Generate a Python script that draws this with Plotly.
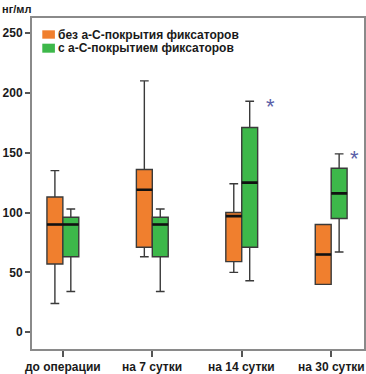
import plotly.graph_objects as go

categories = ["до операции", "на 7 сутки", "на 14 сутки", "на 30 сутки"]
series_names = ["без а-С-покрытия фиксаторов", "с а-С-покрытием фиксаторов"]

# orange: without coating
a_low = [24, 63, 50, 40]
a_q1 = [57, 71, 59, 40]
a_med = [90, 119, 97, 65]
a_q3 = [113, 136, 100, 90]
a_high = [135, 210, 124, 90]

# green: with coating
b_low = [34, 34, 43, 67]
b_q1 = [63, 63, 71, 95]
b_med = [90, 90, 125, 116]
b_q3 = [96, 96, 171, 137]
b_high = [103, 103, 193, 149]

star_idx = [2, 3]
star_y = [193, 149]

y_ticks = [0, 50, 100, 150, 200, 250]

orange = "#F07F2E"
green = "#3DB84A"
edge = "#3a3a3a"
FONT = "Liberation Sans"

fig = go.Figure()
for gid, name, col, lo, q1, med, q3, hi in [
    ("a", series_names[0], orange, a_low, a_q1, a_med, a_q3, a_high),
    ("b", series_names[1], green, b_low, b_q1, b_med, b_q3, b_high),
]:
    fig.add_trace(go.Box(
        x=categories, lowerfence=lo, q1=q1, median=med, q3=q3, upperfence=hi,
        name=name, fillcolor=col, line=dict(color=edge, width=1.4),
        whiskerwidth=0.55, boxpoints=False, showlegend=False, hoverinfo="skip",
        offsetgroup=gid, alignmentgroup="g",
    ))
for gid, med in [("a", a_med), ("b", b_med)]:
    fig.add_trace(go.Box(
        x=categories, lowerfence=med, q1=med, median=med, q3=med, upperfence=med,
        fillcolor="rgba(0,0,0,0)", line=dict(color="#111", width=2.6),
        whiskerwidth=0, boxpoints=False, showlegend=False, hoverinfo="skip",
        offsetgroup=gid, alignmentgroup="g",
    ))

# significance stars, to the upper right of the green box
for i, y, off in zip(star_idx, star_y, [0.32, 0.26]):
    fig.add_annotation(x=i + off, y=y, xref="x", yref="y", text="*", showarrow=False,
                       xanchor="center", yshift=-5,
                       font=dict(size=22, color="#5B5EA8", family=FONT))

# x tick labels as annotations (so they sit close to the axis)
for c in categories:
    fig.add_annotation(x=c, y=0, xref="x", yref="paper", text=c, showarrow=False,
                       xanchor="center", yanchor="middle", yshift=-18,
                       font=dict(size=12, family=FONT, color="#1a1a1a", weight="bold"))

# legend drawn manually
sw_y = [(0.9628, 0.9375), (0.9224, 0.8952)]
for (y1, y0), col, name in zip(sw_y, [orange, green], series_names):
    fig.add_shape(type="rect", xref="paper", yref="paper", x0=0.031, x1=0.069,
                  y0=y0, y1=y1, fillcolor=col, line=dict(width=0))
    fig.add_annotation(x=0.0734, y=(y0 + y1) / 2, xref="paper", yref="paper",
                       xanchor="left", yanchor="middle", text=name, showarrow=False,
                       font=dict(size=12, family=FONT, color="#1a1a1a", weight="bold"))

fig.add_annotation(x=0, y=1, xref="paper", yref="paper", xanchor="left", yanchor="top",
                   text="нг/мл", showarrow=False, xshift=-32, yshift=17,
                   font=dict(size=11, color="#1a1a1a", family=FONT, weight="bold"))

fig.update_layout(
    width=366, height=374,
    margin=dict(l=32, r=0, t=18, b=25),
    paper_bgcolor="white", plot_bgcolor="white",
    boxmode="group", boxgap=0.644, boxgroupgap=0,
    font=dict(family=FONT, size=11, color="#1a1a1a"),
    showlegend=False,
)
fig.update_xaxes(type="category", range=[-0.345, 3.367], showgrid=False,
                 showline=True, linecolor="#8a8a8a", linewidth=2, mirror=True,
                 ticks="outside", ticklen=6, tickcolor="#555", tickwidth=1.5,
                 showticklabels=False)
fig.update_yaxes(range=[-14, 262.5], tickvals=y_ticks, showgrid=False, zeroline=False,
                 showline=True, linecolor="#8a8a8a", linewidth=2, mirror=True,
                 ticks="outside", ticklen=5, tickcolor="#555", tickwidth=1.5,
                 tickfont=dict(size=12, family=FONT, color="#1a1a1a", weight="bold"))

fig.write_html("out.html", config={"displayModeBar": False},
               post_script="document.body.style.margin='0';document.body.style.overflow='hidden';")
